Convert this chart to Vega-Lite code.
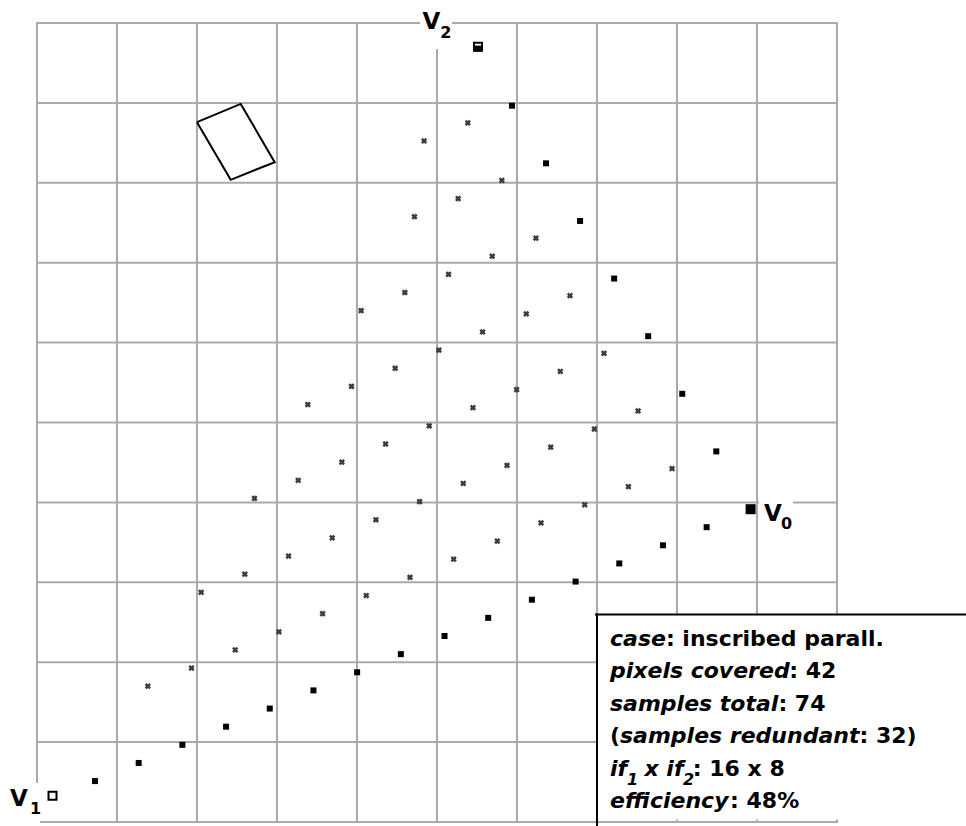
{
  "$schema": "https://vega.github.io/schema/vega-lite/v6.json",
  "width": 800,
  "height": 799,
  "autosize": {"type": "none"},
  "padding": {"left": 37, "top": 23, "right": 129, "bottom": 4},
  "background": "white",
  "config": {"view": {"stroke": null}},
  "datasets": {
    "grid": [{"g": 0}, {"g": 1}, {"g": 2}, {"g": 3}, {"g": 4}, {"g": 5}, {"g": 6}, {"g": 7}, {"g": 8}, {"g": 9}, {"g": 10}],
    "parallelogram": [
      {"o": 1, "x": 2.0, "y": 1.2413},
      {"o": 2, "x": 2.5463, "y": 1.0125},
      {"o": 3, "x": 2.9713, "y": 1.7413},
      {"o": 4, "x": 2.4213, "y": 1.9625},
      {"o": 5, "x": 2.0, "y": 1.2413}
    ],
    "interior": [
      {"x": 1.3852, "y": 8.3004}, {"x": 1.9313, "y": 8.0734}, {"x": 2.4774, "y": 7.8464}, {"x": 3.0236, "y": 7.6194},
      {"x": 3.5697, "y": 7.3924}, {"x": 4.1158, "y": 7.1654}, {"x": 4.6620, "y": 6.9384}, {"x": 5.2081, "y": 6.7114},
      {"x": 5.7542, "y": 6.4844}, {"x": 6.3003, "y": 6.2574}, {"x": 6.8465, "y": 6.0304}, {"x": 7.3926, "y": 5.8034},
      {"x": 7.9387, "y": 5.5764},
      {"x": 2.0519, "y": 7.1253}, {"x": 2.5980, "y": 6.8983}, {"x": 3.1441, "y": 6.6713}, {"x": 3.6903, "y": 6.4443},
      {"x": 4.2364, "y": 6.2173}, {"x": 4.7825, "y": 5.9903}, {"x": 5.3286, "y": 5.7633}, {"x": 5.8748, "y": 5.5363},
      {"x": 6.4209, "y": 5.3093}, {"x": 6.9670, "y": 5.0823}, {"x": 7.5132, "y": 4.8553},
      {"x": 2.7185, "y": 5.9501}, {"x": 3.2646, "y": 5.7231}, {"x": 3.8107, "y": 5.4961}, {"x": 4.3569, "y": 5.2691},
      {"x": 4.9030, "y": 5.0421}, {"x": 5.4491, "y": 4.8151}, {"x": 5.9953, "y": 4.5881}, {"x": 6.5414, "y": 4.3611},
      {"x": 7.0875, "y": 4.1341},
      {"x": 3.3851, "y": 4.7750}, {"x": 3.9313, "y": 4.5480}, {"x": 4.4774, "y": 4.3210}, {"x": 5.0235, "y": 4.0940},
      {"x": 5.5696, "y": 3.8670}, {"x": 6.1158, "y": 3.6400}, {"x": 6.6619, "y": 3.4130},
      {"x": 4.0518, "y": 3.6000}, {"x": 4.5979, "y": 3.3730}, {"x": 5.1440, "y": 3.1460}, {"x": 5.6902, "y": 2.9190},
      {"x": 6.2363, "y": 2.6920},
      {"x": 4.7184, "y": 2.4247}, {"x": 5.2645, "y": 2.1977}, {"x": 5.8106, "y": 1.9707},
      {"x": 4.8389, "y": 1.4766}, {"x": 5.3850, "y": 1.2496}
    ],
    "edge": [
      {"x": 0.7249, "y": 9.4880}, {"x": 1.2710, "y": 9.2610}, {"x": 1.8171, "y": 9.0340}, {"x": 2.3633, "y": 8.8070},
      {"x": 2.9094, "y": 8.5800}, {"x": 3.4555, "y": 8.3530}, {"x": 4.0016, "y": 8.1260}, {"x": 4.5478, "y": 7.8990},
      {"x": 5.0939, "y": 7.6720}, {"x": 5.6400, "y": 7.4450}, {"x": 6.1861, "y": 7.2180}, {"x": 6.7323, "y": 6.9910},
      {"x": 7.2784, "y": 6.7640}, {"x": 7.8245, "y": 6.5370}, {"x": 8.3706, "y": 6.3100},
      {"x": 8.4911, "y": 5.3619}, {"x": 8.0655, "y": 4.6408}, {"x": 7.6399, "y": 3.9196}, {"x": 7.2143, "y": 3.1985},
      {"x": 6.7886, "y": 2.4774}, {"x": 6.3630, "y": 1.7563}, {"x": 5.9374, "y": 1.0351}
    ],
    "hollow": [{"x": 0.1938, "y": 9.6713}, {"x": 5.5125, "y": 0.2963}],
    "topSample": [{"x": 5.5118, "y": 0.3200}],
    "v0": [{"x": 8.92, "y": 6.085}],
    "masks": [
      {"x": 4.7875, "x2": 5.1875, "y": -0.2875, "y2": 0.325},
      {"x": 9.025, "x2": 9.45, "y": 5.8875, "y2": 6.4125},
      {"x": -0.4625, "x2": 0.0375, "y": 9.5125, "y2": 10.0375},
      {"x": 7.0125, "x2": 11.6125, "y": 7.4125, "y2": 9.9688}
    ],
    "boxLines": [
      {"x": 6.9875, "x2": 11.6125, "y": 7.4038, "y2": 7.4038},
      {"x": 7.0, "x2": 7.0, "y": 7.4038, "y2": 10.0375}
    ],
    "vLabels": [
      {"t": "V", "x": 9.0875, "y": 6.2338},
      {"t": "V", "x": -0.3375, "y": 9.8},
      {"t": "V", "x": 4.8188, "y": 0.0788}
    ],
    "vSubs": [
      {"t": "0", "x": 9.3, "y": 6.3375},
      {"t": "1", "x": -0.0875, "y": 9.9},
      {"t": "2", "x": 5.04, "y": 0.1913}
    ],
    "legendItalic": [
      {"t": "case", "x": 7.1625, "y": 7.7963},
      {"t": "pixels covered", "x": 7.1625, "y": 8.2025},
      {"t": "samples total", "x": 7.1625, "y": 8.6088},
      {"t": "samples redundant", "x": 7.2875, "y": 9.0150},
      {"t": "if", "x": 7.1625, "y": 9.4213},
      {"t": "x if", "x": 7.5938, "y": 9.4213},
      {"t": "efficiency", "x": 7.1625, "y": 9.8275}
    ],
    "legendRegular": [
      {"t": ": inscribed parall.", "x": 7.8613, "y": 7.7963},
      {"t": ": 42", "x": 9.4038, "y": 8.2025},
      {"t": ": 74", "x": 9.2675, "y": 8.6088},
      {"t": "(", "x": 7.1625, "y": 9.0150},
      {"t": ": 32)", "x": 10.2813, "y": 9.0150},
      {"t": ": 16 x 8", "x": 8.1975, "y": 9.4213},
      {"t": ": 48%", "x": 8.6638, "y": 9.8275}
    ],
    "legendSub": [
      {"t": "1", "x": 7.3763, "y": 9.5375},
      {"t": "2", "x": 8.0763, "y": 9.5375}
    ]
  },
  "layer": [
    {
      "data": {"name": "grid"},
      "mark": {"type": "rule", "color": "#aaaaaa", "strokeWidth": 2, "strokeCap": "square"},
      "encoding": {
        "x": {"field": "g", "type": "quantitative", "scale": {"domain": [0, 10], "nice": false, "zero": false}, "axis": null}
      }
    },
    {
      "data": {"name": "grid"},
      "mark": {"type": "rule", "color": "#aaaaaa", "strokeWidth": 2, "strokeCap": "square"},
      "encoding": {
        "y": {"field": "g", "type": "quantitative", "scale": {"domain": [0, 10], "nice": false, "zero": false, "reverse": true}, "axis": null}
      }
    },
    {
      "data": {"name": "parallelogram"},
      "mark": {"type": "line", "color": "black", "strokeWidth": 2, "strokeJoin": "miter"},
      "encoding": {
        "x": {"field": "x", "type": "quantitative", "scale": {"domain": [0, 10], "nice": false, "zero": false}, "axis": null},
        "y": {"field": "y", "type": "quantitative", "scale": {"domain": [0, 10], "nice": false, "zero": false, "reverse": true}, "axis": null},
        "order": {"field": "o", "type": "quantitative"}
      }
    },
    {
      "data": {"name": "interior"},
      "mark": {"type": "point", "shape": "cross", "angle": 45, "size": 40, "filled": true, "color": "#3c3c3c", "opacity": 1},
      "encoding": {
        "x": {"field": "x", "type": "quantitative", "scale": {"domain": [0, 10], "nice": false, "zero": false}, "axis": null},
        "y": {"field": "y", "type": "quantitative", "scale": {"domain": [0, 10], "nice": false, "zero": false, "reverse": true}, "axis": null}
      }
    },
    {
      "data": {"name": "edge"},
      "mark": {"type": "square", "size": 36, "color": "black", "opacity": 1},
      "encoding": {
        "x": {"field": "x", "type": "quantitative", "scale": {"domain": [0, 10], "nice": false, "zero": false}, "axis": null},
        "y": {"field": "y", "type": "quantitative", "scale": {"domain": [0, 10], "nice": false, "zero": false, "reverse": true}, "axis": null}
      }
    },
    {
      "data": {"name": "hollow"},
      "mark": {"type": "point", "shape": "square", "size": 64, "filled": false, "fill": "white", "fillOpacity": 1, "stroke": "black", "strokeWidth": 2, "opacity": 1},
      "encoding": {
        "x": {"field": "x", "type": "quantitative", "scale": {"domain": [0, 10], "nice": false, "zero": false}, "axis": null},
        "y": {"field": "y", "type": "quantitative", "scale": {"domain": [0, 10], "nice": false, "zero": false, "reverse": true}, "axis": null}
      }
    },
    {
      "data": {"name": "topSample"},
      "mark": {"type": "square", "size": 36, "color": "black", "opacity": 1},
      "encoding": {
        "x": {"field": "x", "type": "quantitative", "scale": {"domain": [0, 10], "nice": false, "zero": false}, "axis": null},
        "y": {"field": "y", "type": "quantitative", "scale": {"domain": [0, 10], "nice": false, "zero": false, "reverse": true}, "axis": null}
      }
    },
    {
      "data": {"name": "v0"},
      "mark": {"type": "square", "size": 100, "color": "black", "opacity": 1},
      "encoding": {
        "x": {"field": "x", "type": "quantitative", "scale": {"domain": [0, 10], "nice": false, "zero": false}, "axis": null},
        "y": {"field": "y", "type": "quantitative", "scale": {"domain": [0, 10], "nice": false, "zero": false, "reverse": true}, "axis": null}
      }
    },
    {
      "data": {"name": "masks"},
      "mark": {"type": "rect", "color": "white", "opacity": 1},
      "encoding": {
        "x": {"field": "x", "type": "quantitative", "scale": {"domain": [0, 10], "nice": false, "zero": false}, "axis": null},
        "x2": {"field": "x2"},
        "y": {"field": "y", "type": "quantitative", "scale": {"domain": [0, 10], "nice": false, "zero": false, "reverse": true}, "axis": null},
        "y2": {"field": "y2"}
      }
    },
    {
      "data": {"name": "boxLines"},
      "mark": {"type": "rule", "color": "black", "strokeWidth": 2, "strokeCap": "square"},
      "encoding": {
        "x": {"field": "x", "type": "quantitative", "scale": {"domain": [0, 10], "nice": false, "zero": false}, "axis": null},
        "x2": {"field": "x2"},
        "y": {"field": "y", "type": "quantitative", "scale": {"domain": [0, 10], "nice": false, "zero": false, "reverse": true}, "axis": null},
        "y2": {"field": "y2"}
      }
    },
    {
      "data": {"name": "vLabels"},
      "mark": {"type": "text", "font": "DejaVu Sans", "fontWeight": "bold", "fontSize": 23, "align": "left", "baseline": "alphabetic", "color": "black"},
      "encoding": {
        "x": {"field": "x", "type": "quantitative", "scale": {"domain": [0, 10], "nice": false, "zero": false}, "axis": null},
        "y": {"field": "y", "type": "quantitative", "scale": {"domain": [0, 10], "nice": false, "zero": false, "reverse": true}, "axis": null},
        "text": {"field": "t"}
      }
    },
    {
      "data": {"name": "vSubs"},
      "mark": {"type": "text", "font": "DejaVu Sans", "fontWeight": "bold", "fontSize": 16, "align": "left", "baseline": "alphabetic", "color": "black"},
      "encoding": {
        "x": {"field": "x", "type": "quantitative", "scale": {"domain": [0, 10], "nice": false, "zero": false}, "axis": null},
        "y": {"field": "y", "type": "quantitative", "scale": {"domain": [0, 10], "nice": false, "zero": false, "reverse": true}, "axis": null},
        "text": {"field": "t"}
      }
    },
    {
      "data": {"name": "legendItalic"},
      "mark": {"type": "text", "font": "DejaVu Sans", "fontWeight": "bold", "fontStyle": "italic", "fontSize": 22, "align": "left", "baseline": "alphabetic", "color": "black"},
      "encoding": {
        "x": {"field": "x", "type": "quantitative", "scale": {"domain": [0, 10], "nice": false, "zero": false}, "axis": null},
        "y": {"field": "y", "type": "quantitative", "scale": {"domain": [0, 10], "nice": false, "zero": false, "reverse": true}, "axis": null},
        "text": {"field": "t"}
      }
    },
    {
      "data": {"name": "legendRegular"},
      "mark": {"type": "text", "font": "DejaVu Sans", "fontWeight": "bold", "fontSize": 22, "align": "left", "baseline": "alphabetic", "color": "black"},
      "encoding": {
        "x": {"field": "x", "type": "quantitative", "scale": {"domain": [0, 10], "nice": false, "zero": false}, "axis": null},
        "y": {"field": "y", "type": "quantitative", "scale": {"domain": [0, 10], "nice": false, "zero": false, "reverse": true}, "axis": null},
        "text": {"field": "t"}
      }
    },
    {
      "data": {"name": "legendSub"},
      "mark": {"type": "text", "font": "DejaVu Sans", "fontWeight": "bold", "fontStyle": "italic", "fontSize": 16, "align": "left", "baseline": "alphabetic", "color": "black"},
      "encoding": {
        "x": {"field": "x", "type": "quantitative", "scale": {"domain": [0, 10], "nice": false, "zero": false}, "axis": null},
        "y": {"field": "y", "type": "quantitative", "scale": {"domain": [0, 10], "nice": false, "zero": false, "reverse": true}, "axis": null},
        "text": {"field": "t"}
      }
    }
  ]
}
